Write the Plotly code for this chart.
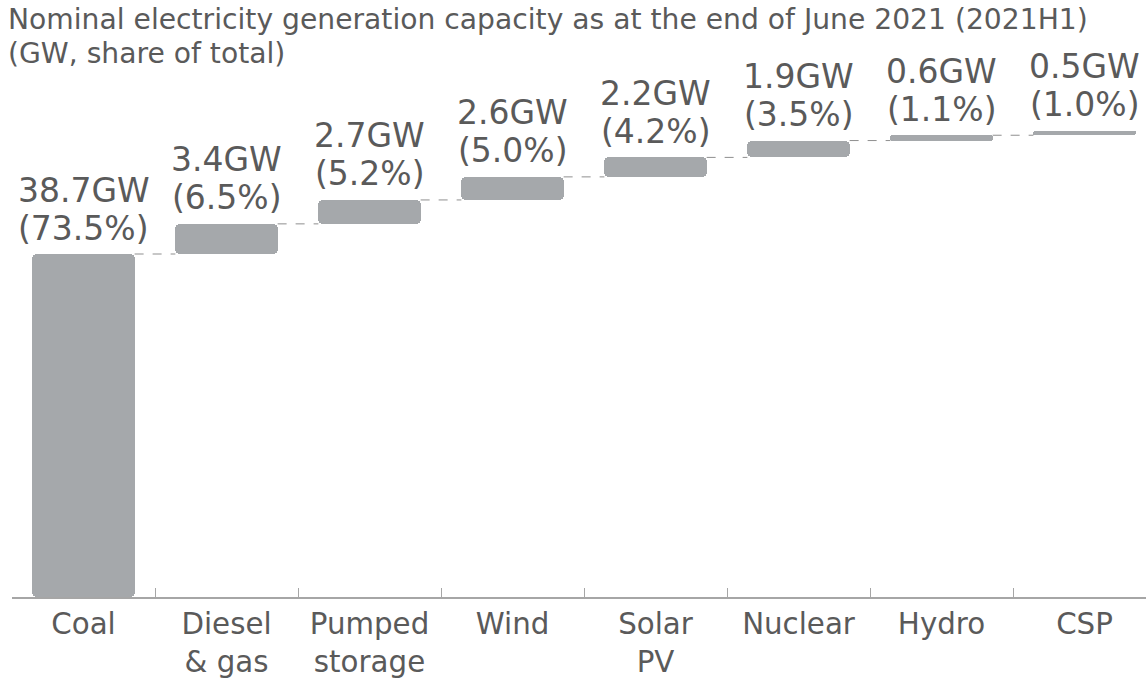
import numpy as np
import plotly.graph_objects as go

categories = ["Coal", "Diesel<br>& gas", "Pumped<br>storage", "Wind", "Solar<br>PV", "Nuclear", "Hydro", "CSP"]
capacity_gw = [38.7, 3.4, 2.7, 2.6, 2.2, 1.9, 0.6, 0.5]
share_pct = [73.5, 6.5, 5.2, 5.0, 4.2, 3.5, 1.1, 1.0]
title_lines = ["Nominal electricity generation capacity as at the end of June 2021 (2021H1)",
               "(GW, share of total)"]

FONT = "DejaVu Sans"
TXT = "#5a5a5a"
BAR = "#a5a8ab"
AX = "#a6a6a6"
BW = 0.715

vals = np.array(capacity_gw)
tops = np.cumsum(vals)
bases = tops - vals
xs = list(range(len(categories)))

fig = go.Figure()
fig.add_trace(go.Bar(
    x=xs, y=vals, base=bases, width=BW,
    marker=dict(color=BAR, line=dict(width=0), cornerradius=5),
    hoverinfo="skip", showlegend=False,
))

shapes = []
for i in range(len(vals) - 1):
    shapes.append(dict(type="line", xref="x", yref="y",
                       x0=i + BW / 2, x1=i + 1 - BW / 2, y0=tops[i], y1=tops[i],
                       line=dict(color="#8f8f8f", width=1, dash="dash")))

annotations = []
for i, (g, p) in enumerate(zip(capacity_gw, share_pct)):
    for txt, ys in ((f"{g:.1f}GW", 64), (f"({p:.1f}%)", 26)):
        annotations.append(dict(x=i, y=tops[i], xref="x", yref="y",
                                text=txt, showarrow=False,
                                yanchor="middle", xanchor="center", yshift=ys,
                                font=dict(family=FONT, size=33, color=TXT)))
for line, ys in zip(title_lines, [61, 27]):
    annotations.append(dict(x=0, y=1, xref="paper", yref="paper", xanchor="left",
                            yanchor="middle", xshift=-6, yshift=ys, text=line,
                            showarrow=False, font=dict(family=FONT, size=28.2, color=TXT)))

T, B = 80, 81
ppg = 8.863
ymax = (678 - T - B) / ppg

fig.update_layout(
    width=1146, height=678,
    margin=dict(l=12, r=0, t=T, b=B, autoexpand=False),
    paper_bgcolor="white", plot_bgcolor="white",
    shapes=shapes, annotations=annotations,
    bargap=0,
    xaxis=dict(
        tickmode="array", tickvals=xs, ticktext=categories,
        range=[-0.5, len(categories) - 0.57],
        showgrid=False, zeroline=False, automargin=False,
        showline=True, linecolor=AX, linewidth=2,
        ticks="", tickfont=dict(family=FONT, size=29.3, color=TXT),
    ),
    yaxis=dict(range=[0, ymax], visible=False, showgrid=False, zeroline=False,
               automargin=False),
    xaxis2=dict(overlaying="x", matches="x", side="bottom", anchor="y",
                tickmode="array", tickvals=[i - 0.5 for i in range(len(categories))],
                ticks="inside", ticklen=9, tickwidth=1, tickcolor=AX, automargin=False,
                showticklabels=False, showgrid=False, zeroline=False, showline=False),
)
fig.add_trace(go.Scatter(x=[0], y=[0], xaxis="x2", mode="markers",
                         marker=dict(opacity=0), hoverinfo="skip", showlegend=False))

fig.write_html("out.html", config={"displayModeBar": False},
               post_script="document.body.style.margin='0';")
